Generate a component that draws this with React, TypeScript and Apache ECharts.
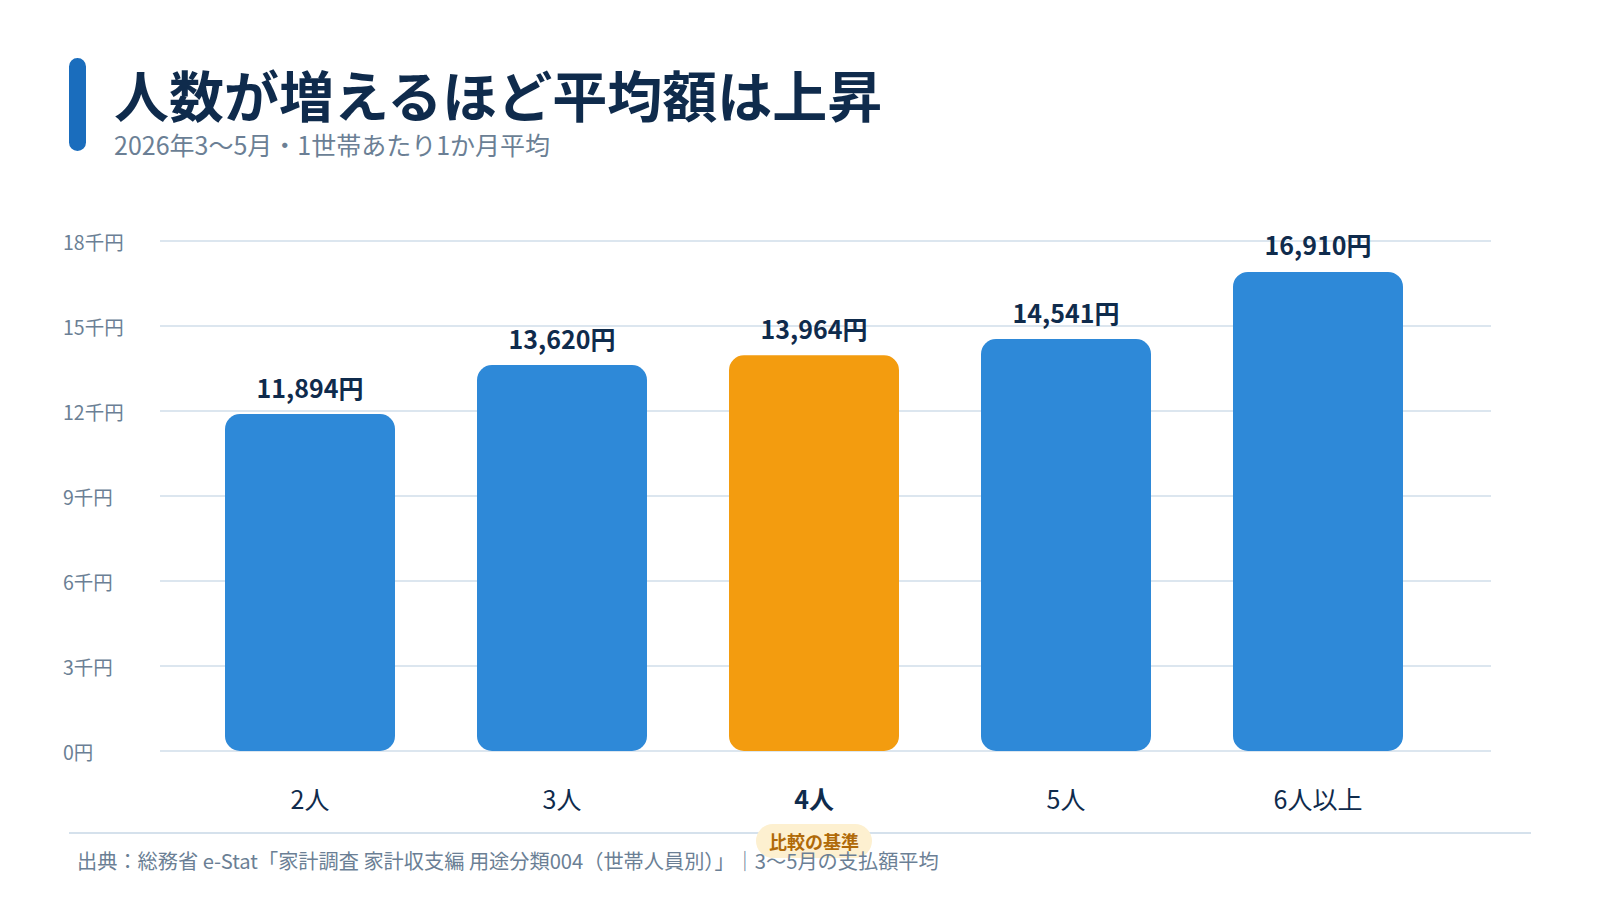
import React from 'react';
import * as echarts from 'echarts';

const categories = ['2人', '3人', '4人', '5人', '6人以上'];
const amounts = [11894, 13620, 13964, 14541, 16910];
const baseCategory = '4人';
const yTicks = [0, 3000, 6000, 9000, 12000, 15000, 18000];

const FONT = '"Noto Sans CJK JP", "Noto Sans", sans-serif';
const NAVY = '#0f2b4c';
const GRAY = '#6b7f95';
const BLUE = '#2e89d8';
const ORANGE = '#f39c0f';

const formatYen = (v: number) => v.toLocaleString('en-US') + '円';
const formatTick = (v: number) => (v === 0 ? '0円' : `${v / 1000}千円`);

export default function App() {
  const chartRef = React.useRef<HTMLDivElement>(null);

  React.useEffect(() => {
    if (!chartRef.current) return;
    const chart = echarts.init(chartRef.current, undefined, { renderer: 'svg' });

    const yMax = yTicks[yTicks.length - 1];
    const yStep = yTicks[1] - yTicks[0];

    const option: echarts.EChartsOption = {
      animation: false,
      backgroundColor: '#ffffff',
      textStyle: { fontFamily: FONT },
      grid: [
        // 目盛り線用（横に広い）
        { left: 160, right: 109, top: 241, bottom: 149 },
        // 棒グラフ用
        { left: 184, right: 156, top: 241, bottom: 149 },
      ],
      xAxis: [
        { type: 'category', gridIndex: 0, data: categories, show: false },
        {
          type: 'category',
          gridIndex: 1,
          data: categories,
          z: 10,
          axisLine: { show: false },
          axisTick: { show: false },
          axisLabel: {
            margin: 31,
            formatter: (value: string) =>
              value === baseCategory
                ? `{b|${value}}\n{gap| }\n{badge|比較の基準}`
                : `{a|${value}}`,
            rich: {
              a: { fontSize: 25, color: NAVY, fontFamily: FONT, lineHeight: 32 },
              b: { fontSize: 25, color: NAVY, fontWeight: 'bold', fontFamily: FONT, lineHeight: 32 },
              gap: { fontSize: 2, lineHeight: 17 },
              badge: {
                fontSize: 18,
                fontWeight: 'bold',
                color: '#b06a08',
                fontFamily: FONT,
                backgroundColor: '#fdf0d0',
                borderRadius: 18,
                padding: [8, 13, 8, 13],
                lineHeight: 20,
              },
            },
          },
        },
      ],
      yAxis: [
        {
          type: 'value',
          gridIndex: 0,
          min: 0,
          max: yMax,
          interval: yStep,
          axisLine: { show: false },
          axisTick: { show: false },
          splitLine: { lineStyle: { color: '#dce6ef', width: 2 } },
          axisLabel: {
            align: 'left',
            margin: 97,
            fontSize: 19.5,
            color: GRAY,
            fontFamily: FONT,
            formatter: formatTick,
          },
        },
        { type: 'value', gridIndex: 1, min: 0, max: yMax, interval: yStep, show: false },
      ],
      series: [
        {
          type: 'bar',
          xAxisIndex: 1,
          yAxisIndex: 1,
          barWidth: 170,
          data: amounts.map((v, i) => ({
            value: v,
            itemStyle: {
              color: categories[i] === baseCategory ? ORANGE : BLUE,
              borderRadius: 15,
            },
          })),
          label: {
            show: true,
            position: 'top',
            distance: 15,
            fontSize: 25,
            fontWeight: 'bold',
            color: NAVY,
            fontFamily: FONT,
            formatter: (p: any) => formatYen(p.value),
          },
        },
      ],
      graphic: [
        { type: 'rect', left: 69, top: 58, shape: { width: 17, height: 93, r: 8.5 }, style: { fill: '#1a6dbd' } },
        {
          type: 'text',
          left: 114,
          top: 65,
          style: { text: '人数が増えるほど平均額は上昇', font: `bold 55px ${FONT}`, fill: NAVY },
        },
        {
          type: 'text',
          left: 114,
          top: 131,
          style: { text: '2026年3〜5月・1世帯あたり1か月平均', font: `25px ${FONT}`, fill: GRAY },
        },
        {
          type: 'line',
          z: -1,
          shape: { x1: 69, y1: 833, x2: 1531, y2: 833 },
          style: { stroke: '#d5e1ec', lineWidth: 2 },
        },
        {
          // 出典はバッジの上に重ねる
          type: 'text',
          left: 77,
          top: 850,
          z: 100,
          style: {
            text: '出典：総務省 e-Stat「家計調査 家計収支編 用途分類004（世帯人員別）」｜3〜5月の支払額平均',
            font: `20.2px ${FONT}`,
            fill: GRAY,
          },
        },
      ],
    };

    chart.setOption(option);
    return () => chart.dispose();
  }, []);

  return <div ref={chartRef} style={{ position: 'fixed', left: 0, top: 0, width: 1600, height: 900 }} />;
}
